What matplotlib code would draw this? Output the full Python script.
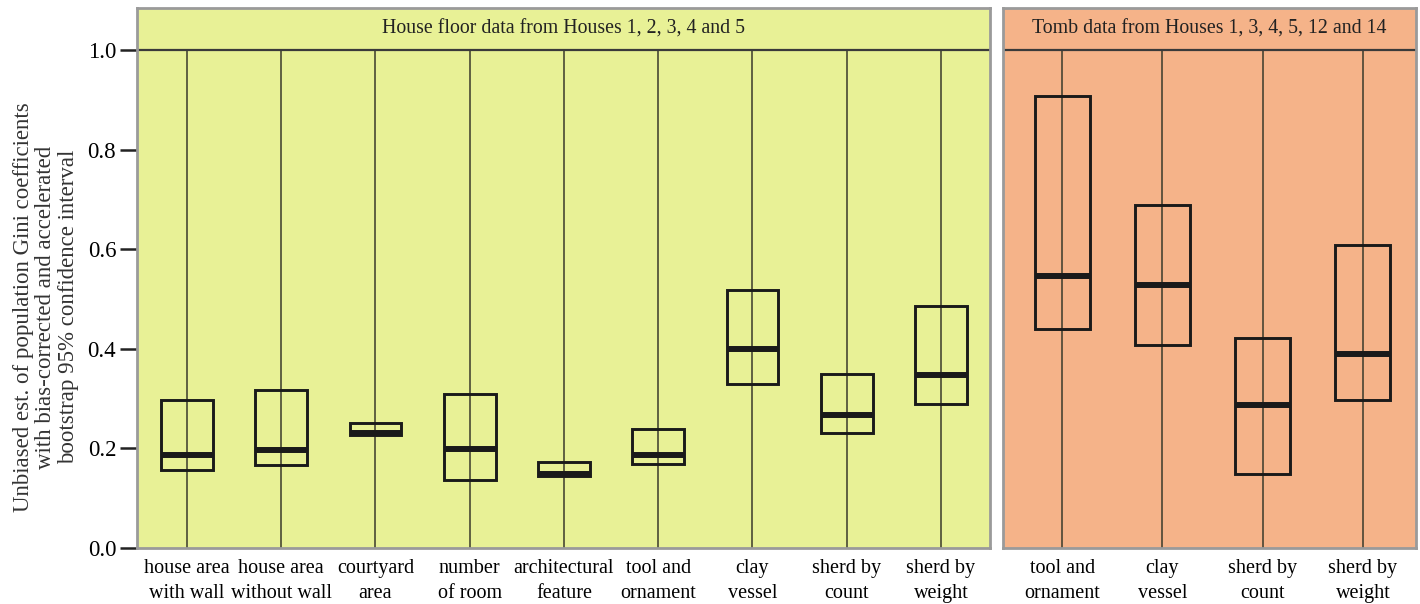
import matplotlib.pyplot as plt
import numpy as np

plt.rcParams['font.family'] = ['Liberation Serif', 'DejaVu Serif']

# house floor data
house_labels = ['house area\nwith wall', 'house area\nwithout wall', 'courtyard\narea',
                'number\nof room', 'architectural\nfeature', 'tool and\nornament',
                'clay\nvessel', 'sherd by\ncount', 'sherd by\nweight']
house_low = [0.157, 0.167, 0.227, 0.137, 0.145, 0.169, 0.330, 0.231, 0.289]
house_med = [0.187, 0.196, 0.230, 0.198, 0.149, 0.187, 0.400, 0.268, 0.348]
house_high = [0.298, 0.318, 0.250, 0.309, 0.172, 0.238, 0.519, 0.349, 0.486]

# tomb data
tomb_labels = ['tool and\nornament', 'clay\nvessel', 'sherd by\ncount', 'sherd by\nweight']
tomb_low = [0.439, 0.408, 0.148, 0.298]
tomb_med = [0.546, 0.528, 0.288, 0.390]
tomb_high = [0.907, 0.688, 0.421, 0.609]

fig = plt.figure(figsize=(14.2, 6.04), dpi=100)
ax1 = fig.add_axes([137/1420, 1-548/604, 853/1420, 540/604])
ax2 = fig.add_axes([1003/1420, 1-548/604, 413/1420, 540/604])

top = 1 + 42/498

def panel(ax, labels, low, med, high, color, title, xlim):
    x = np.arange(len(labels))
    ax.set_facecolor(color)
    ax.vlines(x, 0, 1.0, color='#3a3a2a', lw=1.1, zorder=1)
    ax.axhline(1.0, color='#3a3a3a', lw=1.6, zorder=2)
    lo = np.array(low)
    hi = np.array(high)
    ax.bar(x, hi - lo, bottom=lo, width=0.55, fill=False,
           edgecolor='#1a1a1a', lw=2.1, zorder=3)
    ax.hlines(med, x - 0.275, x + 0.275, color='#1a1a1a', lw=4.3, zorder=4)
    ax.set_xlim(*xlim)
    ax.set_ylim(0, top)
    ax.set_xticks(x)
    ax.set_xticklabels(labels, fontsize=14.5, linespacing=1.45)
    ax.tick_params(axis='x', length=0, pad=8)
    ax.text(np.mean(xlim), (1 + top) / 2, title, ha='center', va='center',
            fontsize=14.3, color='#222222')
    for s in ax.spines.values():
        s.set_color('#9a9a9a')
        s.set_linewidth(2)

panel(ax1, house_labels, house_low, house_med, house_high, '#e8f196',
      'House floor data from Houses 1, 2, 3, 4 and 5', (-0.53, 8.52))
panel(ax2, tomb_labels, tomb_low, tomb_med, tomb_high, '#f5b389',
      'Tomb data from Houses 1, 3, 4, 5, 12 and 14', (-0.59, 3.53))

ax1.set_yticks([0.0, 0.2, 0.4, 0.6, 0.8, 1.0])
ax1.set_yticklabels(['0.0', '0.2', '0.4', '0.6', '0.8', '1.0'], fontsize=16.5)
ax1.tick_params(axis='y', length=12, width=1.8, color='#222222', pad=3)
ax1.set_ylabel('Unbiased est. of population Gini coefficients\n'
               'with bias-corrected and accelerated\n'
               'bootstrap 95% confidence interval',
               fontsize=16.5, linespacing=1.1, color='#333333')
ax1.yaxis.set_label_coords(-0.068, 0.446)
ax2.set_yticks([])

fig.savefig('out.png', dpi=100)
